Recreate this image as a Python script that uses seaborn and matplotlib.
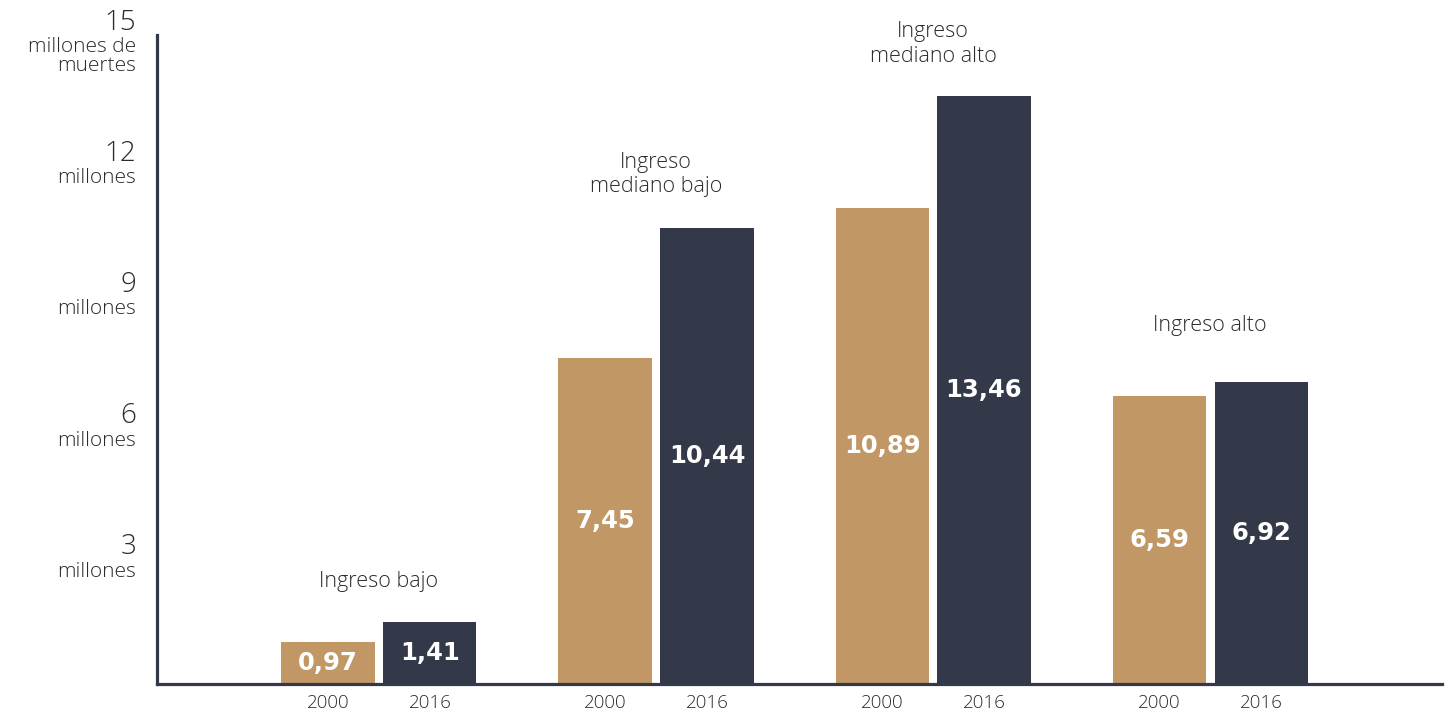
import matplotlib
matplotlib.use("Agg")
import matplotlib.pyplot as plt
import seaborn as sns
import pandas as pd

# Data: deaths (millions) by income group, 2000 vs 2016
grupos = ["Ingreso bajo", "Ingreso\nmediano bajo", "Ingreso\nmediano alto", "Ingreso alto"]
anios = ["2000", "2016"]
valores_2000 = [0.97, 7.45, 10.89, 6.59]
valores_2016 = [1.41, 10.44, 13.46, 6.92]
ticks_y = [3, 6, 9, 12, 15]
etiquetas_y = ["millones", "millones", "millones", "millones", "millones de\nmuertes"]

df = pd.DataFrame({
    "grupo": grupos * 2,
    "anio": [anios[0]] * 4 + [anios[1]] * 4,
    "valor": valores_2000 + valores_2016,
})

ORO = "#C19865"
OSCURO = "#333948"
TEXTO = "#2b2b2b"

sns.set_theme(style="white")
plt.rcParams["font.family"] = ["Open Sans", "DejaVu Sans"]

fig = plt.figure(figsize=(14.5, 7.12), dpi=100)
ax = fig.add_axes([0.1083, 0.0393, 0.886, 0.9115])

sns.barplot(data=df, x="grupo", y="valor", hue="anio", order=grupos,
            hue_order=anios, palette=[ORO, OSCURO], width=0.736, gap=0.087,
            saturation=1, legend=False, linewidth=0, ax=ax)

ax.set_xlim(-0.801, 3.836)
ax.set_ylim(0, 14.85)
ax.set_xlabel("")
ax.set_ylabel("")
ax.set_xticks([])
ax.set_yticks([])

for s in ["top", "right"]:
    ax.spines[s].set_visible(False)
for s in ["left", "bottom"]:
    ax.spines[s].set_color(OSCURO)
    ax.spines[s].set_linewidth(2.3)
    ax.spines[s].set_zorder(5)

# Value labels inside bars
for cont in ax.containers:
    labs = [f"{b.get_height():.2f}".replace(".", ",") for b in cont]
    ax.bar_label(cont, labels=labs, label_type="center", color="white",
                 fontsize=17.5, fontweight="bold", family="DejaVu Sans")

# Year labels under each bar
for cont, anio in zip(ax.containers, anios):
    for b in cont:
        ax.annotate(anio, xy=(b.get_x() + b.get_width() / 2, 0),
                    xytext=(0, -7), textcoords="offset points",
                    ha="center", va="top", fontsize=13.5, color=TEXTO,
                    fontweight="light", annotation_clip=False)

# Group labels above the taller bar of each pair
desfase = [22, 22, 21, 33]
for i, g in enumerate(grupos):
    top = max(valores_2000[i], valores_2016[i])
    ax.annotate(g, xy=(i, top), xytext=(0, desfase[i]), textcoords="offset points",
                ha="center", va="bottom", multialignment="center",
                fontsize=15.5, color=TEXTO, linespacing=1.2, fontweight="light")

# Y axis labels: number over unit text
for t, lab in zip(ticks_y, etiquetas_y):
    ax.annotate(str(t), xy=(0, t), xycoords=("axes fraction", "data"),
                xytext=(-15, -6), textcoords="offset points",
                ha="right", va="bottom", fontsize=20, color=TEXTO,
                fontweight="light", annotation_clip=False)
    ax.annotate(lab, xy=(0, t), xycoords=("axes fraction", "data"),
                xytext=(-15, -6.3), textcoords="offset points",
                ha="right", va="top", multialignment="right",
                fontsize=15, color=TEXTO, linespacing=0.95,
                fontweight="light", annotation_clip=False)

fig.savefig("out.png", dpi=100)
